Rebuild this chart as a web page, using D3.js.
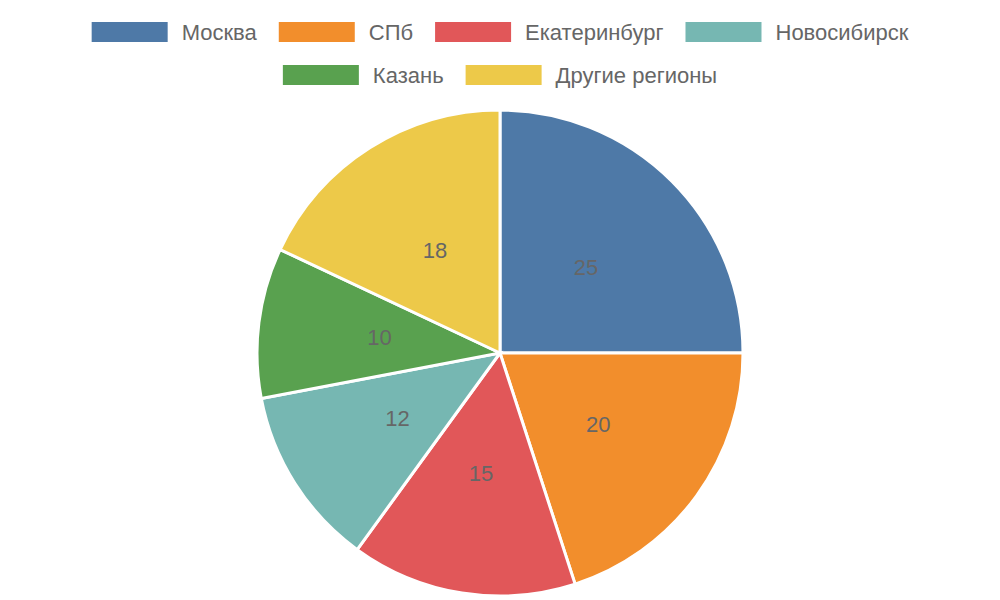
<!DOCTYPE html>
<html>
<head>
<meta charset="utf-8">
<script src="https://d3js.org/d3.v7.min.js"></script>
<style>
  body { margin: 0; background: #fff; }
  text { font-family: "Liberation Sans", Arial, sans-serif; }
</style>
</head>
<body>
<svg width="1000" height="600"></svg>
<script>
var categories = ["Москва", "СПб", "Екатеринбург", "Новосибирск", "Казань", "Другие регионы"];
var values = [25, 20, 15, 12, 10, 18];
var colors = ["#4e79a7", "#f28e2c", "#e15759", "#76b7b2", "#59a14f", "#edc949"];
var legendRows = [[0, 1, 2, 3], [4, 5]];

var svg = d3.select("svg");
var cx = 500, cy = 353, r = 243;

var pie = d3.pie().sort(null).value(function(d) { return d; });
var arc = d3.arc().innerRadius(0).outerRadius(r);
var labelArc = d3.arc().innerRadius(r * 0.5).outerRadius(r * 0.5);

var g = svg.append("g").attr("transform", "translate(" + cx + "," + cy + ")");
var arcs = pie(values);

g.selectAll("path").data(arcs).enter().append("path")
  .attr("d", arc)
  .attr("fill", function(d, i) { return colors[i]; })
  .attr("stroke", "#fff")
  .attr("stroke-width", 3);

g.selectAll("text").data(arcs).enter().append("text")
  .attr("transform", function(d) { return "translate(" + labelArc.centroid(d) + ")"; })
  .attr("text-anchor", "middle")
  .attr("dy", "0.35em")
  .attr("font-size", 22)
  .attr("fill", "#666")
  .text(function(d) { return d.data; });

// legend
var boxW = 76, boxH = 20, pad = 14, gap = 22;
legendRows.forEach(function(row, ri) {
  var y = 32 + ri * 43;
  var lg = svg.append("g");
  var x = 0;
  row.forEach(function(i) {
    var item = lg.append("g").attr("transform", "translate(" + x + ",0)");
    item.append("rect").attr("x", 0).attr("y", y - boxH / 2)
      .attr("width", boxW).attr("height", boxH).attr("fill", colors[i]);
    var t = item.append("text").attr("x", boxW + pad).attr("y", y)
      .attr("dy", "0.35em").attr("font-size", 22).attr("fill", "#666")
      .text(categories[i]);
    x += boxW + pad + t.node().getComputedTextLength() + gap;
  });
  var total = x - gap;
  lg.attr("transform", "translate(" + (500 - total / 2) + ",0)");
});
</script>
</body>
</html>
